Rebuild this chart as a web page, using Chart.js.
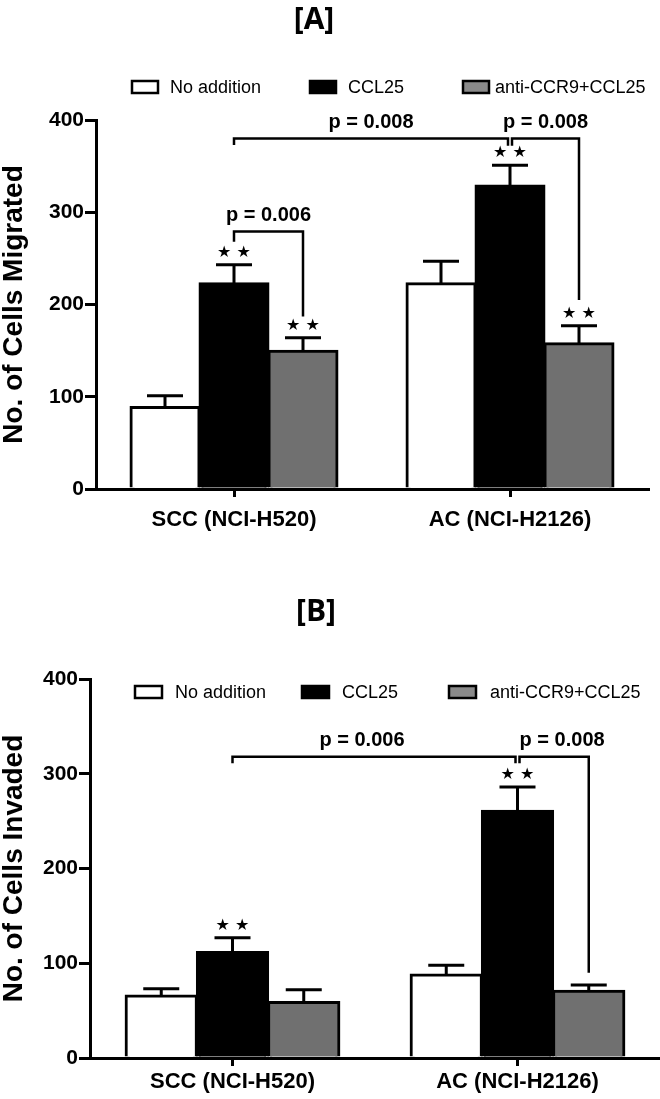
<!DOCTYPE html>
<html>
<head>
<meta charset="utf-8">
<script src="https://cdn.jsdelivr.net/npm/chart.js@4"></script>
<style>
  body { margin: 0; background: #fff; }
  canvas { position: absolute; left: 0; }
</style>
</head>
<body>
<canvas id="chartA" width="660" height="540" style="top:0"></canvas>
<canvas id="chartB" width="660" height="559" style="top:540px"></canvas>
<script>
// dados
const categories = ['SCC (NCI-H520)', 'AC (NCI-H2126)'];
const seriesNames = ['No addition', 'CCL25', 'anti-CCR9+CCL25'];
const yTicks = [0, 100, 200, 300, 400];

// [A] migração
const migNoAdd = [89, 223];
const migCCL25 = [223, 329];
const migAnti = [150, 158];
const migNoAddErr = [12, 24];
const migCCL25Err = [20, 22];
const migAntiErr = [14, 19];

// [B] invasão
const invNoAdd = [66, 88];
const invCCL25 = [112, 261];
const invAnti = [59, 71];
const invNoAddErr = [7, 10];
const invCCL25Err = [15, 25];
const invAntiErr = [13, 6];

// comparações: [categoria, serie] de / até, nível da barra, pernas esq/dir, texto
const migBrackets = [
  { from: [0, 1], to: [1, 1], level: 380, legs: [373, 372], text: 'p = 0.008', shiftTo: -2 },
  { from: [1, 1], to: [1, 2], level: 380, legs: [372, 205], text: 'p = 0.008', shiftFrom: 2 },
  { from: [0, 1], to: [0, 2], level: 279, legs: [268, 187], text: 'p = 0.006' }
];
const invBrackets = [
  { from: [0, 1], to: [1, 1], level: 318, legs: [311, 311], text: 'p = 0.006', shiftTo: -2, dx: -12 },
  { from: [1, 1], to: [1, 2], level: 318, legs: [311, 90], text: 'p = 0.008', shiftFrom: 2, dx: 8 }
];
const migStars = [[0, 1], [0, 2], [1, 1], [1, 2]];
const invStars = [[0, 1], [1, 1]];

const FONT = "'Liberation Sans', Arial, sans-serif";
const barColors = ['#ffffff', '#000000', '#707070'];
const legendColors = ['#ffffff', '#000000', '#8a8a8a'];

// plugin que desenha barras de erro, colchetes, estrelas, título e legenda
const overlay = {
  id: 'overlay',
  afterDatasetsDraw(chart, args, o) {
    const ctx = chart.ctx;
    const y = chart.scales.y;
    ctx.save();
    ctx.strokeStyle = '#000';
    ctx.lineWidth = 3;
    // barras de erro (só a parte de cima)
    chart.data.datasets.forEach((ds, i) => {
      chart.getDatasetMeta(i).data.forEach((bar, j) => {
        const top = y.getPixelForValue(ds.data[j] + ds.errors[j]);
        ctx.beginPath();
        ctx.moveTo(bar.x, bar.y);
        ctx.lineTo(bar.x, top);
        ctx.moveTo(bar.x - 18, top);
        ctx.lineTo(bar.x + 18, top);
        ctx.stroke();
      });
    });
    // estrelas
    ctx.fillStyle = '#000';
    ctx.font = "16px 'DejaVu Sans'";
    ctx.textAlign = 'center';
    ctx.textBaseline = 'middle';
    o.stars.forEach(([c, s]) => {
      const ds = chart.data.datasets[s];
      const bar = chart.getDatasetMeta(s).data[c];
      ctx.fillText('★ ★', bar.x, y.getPixelForValue(ds.data[c] + ds.errors[c]) - 12);
    });
    // colchetes com p
    ctx.lineWidth = 2.5;
    ctx.font = 'bold 20px ' + FONT;
    o.brackets.forEach(b => {
      const x1 = chart.getDatasetMeta(b.from[1]).data[b.from[0]].x + (b.shiftFrom || 0);
      const x2 = chart.getDatasetMeta(b.to[1]).data[b.to[0]].x + (b.shiftTo || 0);
      const yl = y.getPixelForValue(b.level);
      ctx.beginPath();
      ctx.moveTo(x1, y.getPixelForValue(b.legs[0]));
      ctx.lineTo(x1, yl);
      ctx.lineTo(x2, yl);
      ctx.lineTo(x2, y.getPixelForValue(b.legs[1]));
      ctx.stroke();
      ctx.fillText(b.text, (x1 + x2) / 2 + (b.dx || 0), yl - 16);
    });
    ctx.restore();
  },
  afterDraw(chart, args, o) {
    const ctx = chart.ctx;
    ctx.save();
    ctx.fillStyle = '#000';
    ctx.textAlign = 'center';
    ctx.textBaseline = 'middle';
    ctx.font = "bold 30px 'Open Sans'";
    ctx.fillText(o.title.text, o.title.x, o.title.y);
    // legenda
    const lg = o.legend;
    ctx.font = '18px ' + FONT;
    ctx.textAlign = 'left';
    ctx.lineWidth = 2.5;
    chart.data.datasets.forEach((ds, i) => {
      ctx.fillStyle = legendColors[i];
      ctx.fillRect(lg.boxX[i], lg.y - lg.boxH / 2, lg.boxW, lg.boxH);
      ctx.strokeStyle = '#000';
      ctx.strokeRect(lg.boxX[i], lg.y - lg.boxH / 2, lg.boxW, lg.boxH);
      ctx.fillStyle = '#000';
      ctx.fillText(ds.label, lg.textX[i], lg.y + 1);
    });
    ctx.restore();
  }
};

function makePanel(id, means, errs, yTitle, lay) {
  return new Chart(document.getElementById(id).getContext('2d'), {
    type: 'bar',
    data: {
      labels: categories,
      datasets: seriesNames.map((name, i) => ({
        label: name,
        data: means[i],
        errors: errs[i],
        backgroundColor: barColors[i],
        borderColor: '#000',
        borderWidth: 3,
        inflateAmount: 1,
        categoryPercentage: 0.75,
        barPercentage: 1
      }))
    },
    options: {
      responsive: false,
      animation: false,
      devicePixelRatio: 1,
      layout: { padding: { top: lay.padTop, right: lay.padRight, left: 0, bottom: 0 } },
      plugins: {
        legend: { display: false },
        tooltip: { enabled: false },
        overlay: { brackets: lay.brackets, stars: lay.stars, title: lay.title, legend: lay.legend }
      },
      scales: {
        x: {
          grid: { offset: false, drawOnChartArea: false, tickLength: 8, lineWidth: 3, color: '#000' },
          border: { color: '#000', width: 3 },
          ticks: { color: '#000', padding: lay.xPad, maxRotation: 0, font: { family: FONT, size: 22, weight: 'bold' } },
          afterFit: s => { s.height = lay.xHeight; }
        },
        y: {
          min: yTicks[0],
          max: yTicks[yTicks.length - 1],
          afterBuildTicks: s => { s.ticks = yTicks.map(v => ({ value: v })); },
          grid: { drawOnChartArea: false, tickLength: 11, lineWidth: 3, color: '#000' },
          border: { color: '#000', width: 3 },
          ticks: { color: '#000', padding: 1, font: { family: FONT, size: 21, weight: 'bold' } },
          title: { display: true, text: yTitle, color: '#000', padding: 0, font: { family: FONT, size: 28, weight: 'bold', lineHeight: 1 } },
          afterFit: s => { s.width = lay.yWidth; }
        }
      }
    },
    plugins: [overlay]
  });
}

makePanel('chartA',
  [migNoAdd, migCCL25, migAnti],
  [migNoAddErr, migCCL25Err, migAntiErr],
  'No. of Cells Migrated',
  {
    padTop: 120, padRight: 12, yWidth: 96, xHeight: 51, xPad: 10,
    brackets: migBrackets, stars: migStars,
    title: { text: '[A]', x: 314, y: 20 },
    legend: { y: 87, boxX: [132, 310, 463], textX: [170, 348, 495], boxW: 26, boxH: 12 }
  });

makePanel('chartB',
  [invNoAdd, invCCL25, invAnti],
  [invNoAddErr, invCCL25Err, invAntiErr],
  'No. of Cells Invaded',
  {
    padTop: 139, padRight: 0, yWidth: 90, xHeight: 41, xPad: 3,
    brackets: invBrackets, stars: invStars,
    title: { text: '[B]', x: 316, y: 72 },
    legend: { y: 152, boxX: [135, 302, 449], textX: [175, 342, 490], boxW: 27, boxH: 12 }
  });
</script>
</body>
</html>
